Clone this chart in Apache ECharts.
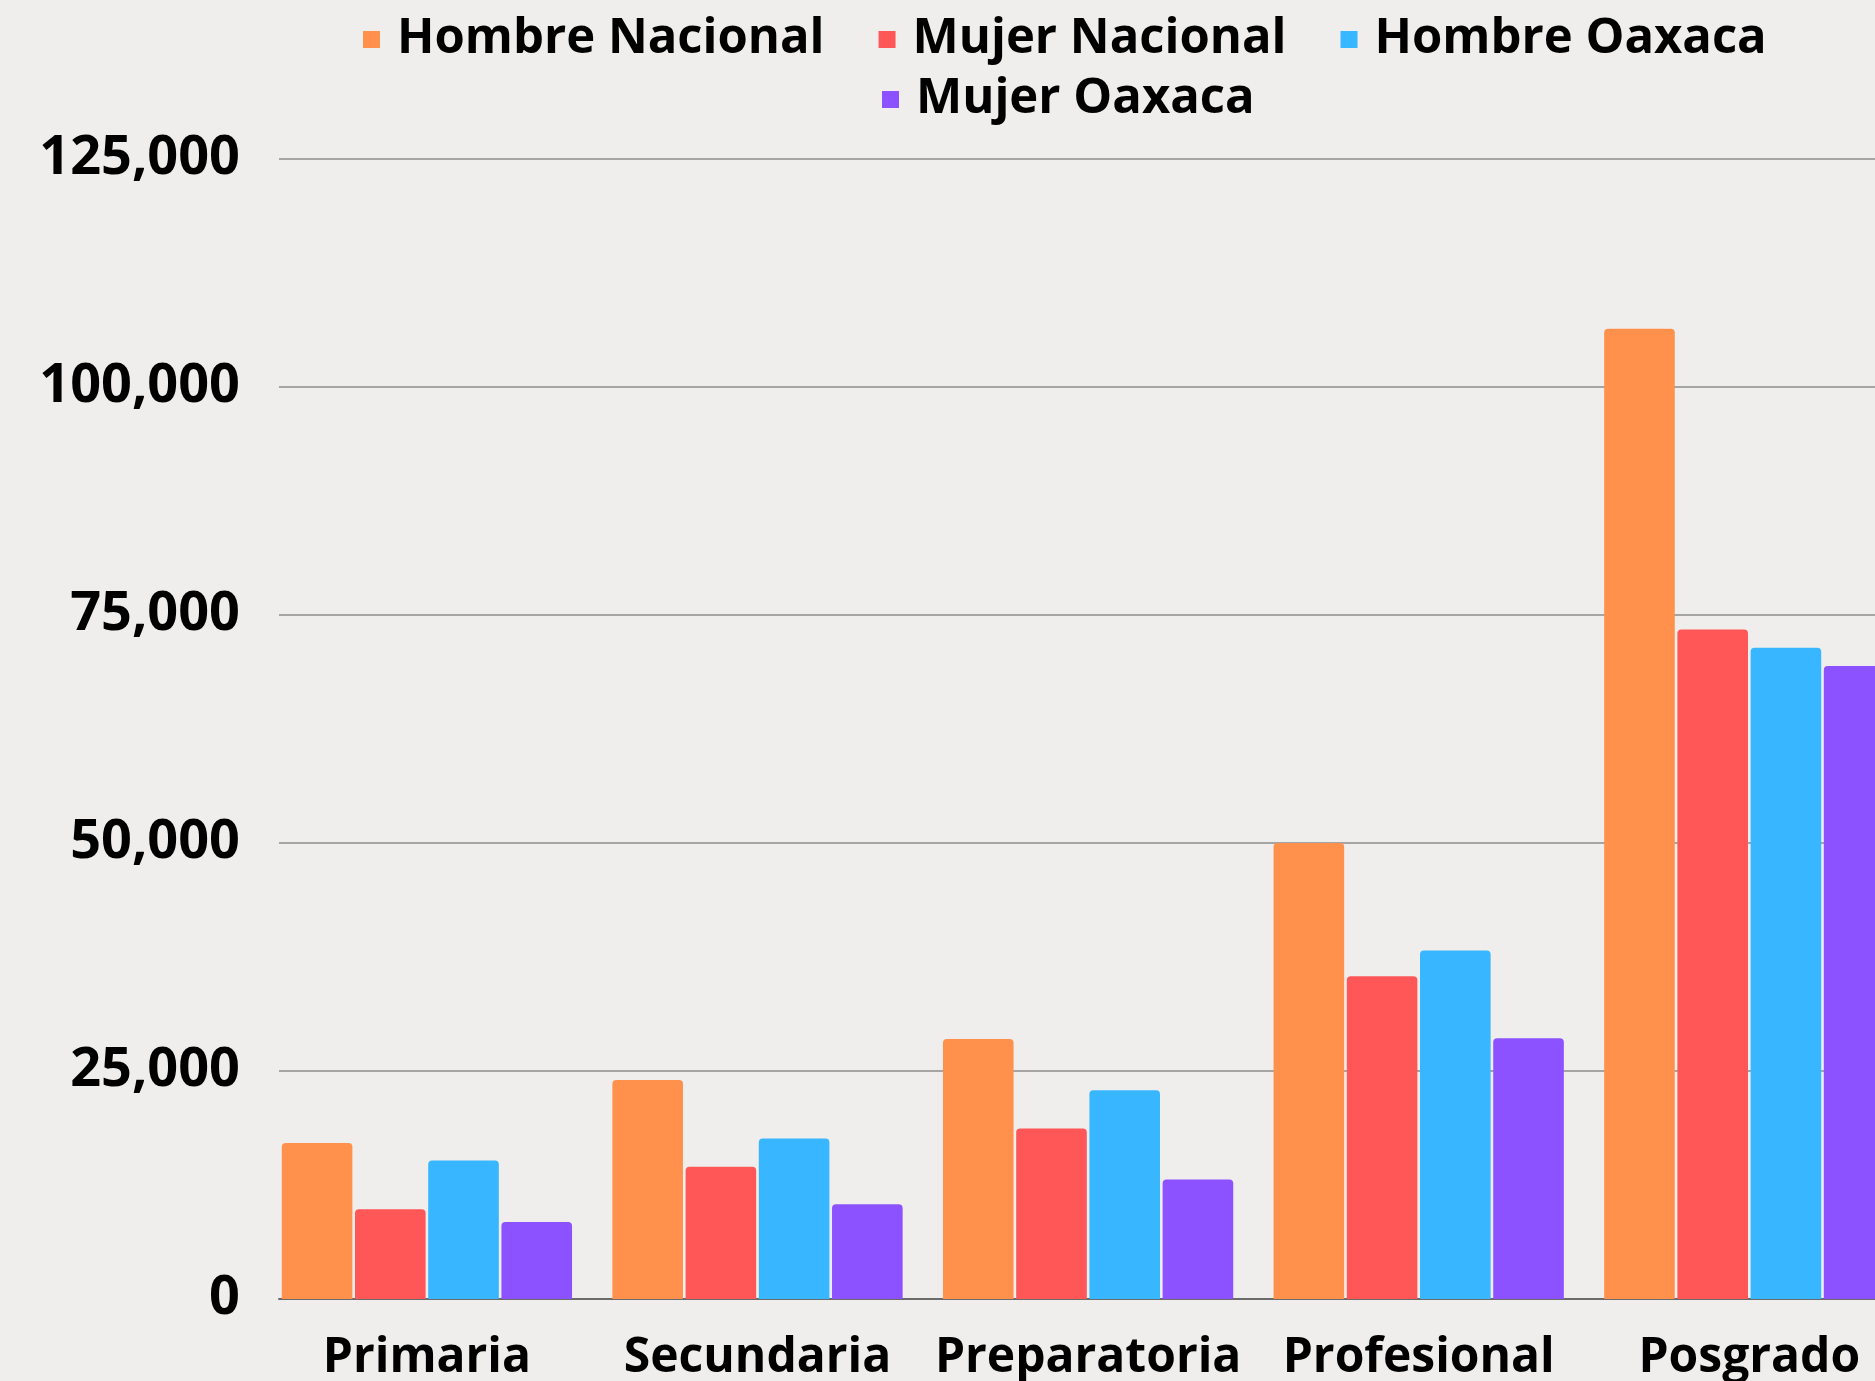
<!DOCTYPE html>
<html>
<head>
<meta charset="utf-8">
<script src="https://cdn.jsdelivr.net/npm/echarts@6/dist/echarts.min.js"></script>
<style>
html,body{margin:0;padding:0;background:#efeeec;}
#c{width:1875px;height:1381px;}
</style>
</head>
<body>
<div id="c"></div>
<script>
const categories = ['Primaria', 'Secundaria', 'Preparatoria', 'Profesional', 'Posgrado'];
const hombreNacional = [17100, 24000, 28500, 50000, 106400];
const mujerNacional = [9850, 14500, 18700, 35400, 73400];
const hombreOaxaca = [15200, 17600, 22900, 38200, 71400];
const mujerOaxaca = [8450, 10400, 13100, 28600, 69400];
const seriesNames = ['Hombre Nacional', 'Mujer Nacional', 'Hombre Oaxaca', 'Mujer Oaxaca'];
const seriesColors = ['#FF914D', '#FF5757', '#38B6FF', '#8C52FF'];
const yTicks = [0, 25000, 50000, 75000, 100000, 125000];

const font = '"Open Sans", "Noto Sans", sans-serif';
const chart = echarts.init(document.getElementById('c'), null, {renderer: 'canvas'});
const allData = [hombreNacional, mujerNacional, hombreOaxaca, mujerOaxaca];

const legendText = {fontFamily: font, fontWeight: 'bold', fontSize: 49, color: '#000', padding: [0, 0, 0, 12]};
chart.setOption({
  backgroundColor: '#efeeec',
  animation: false,
  legend: [
    {data: seriesNames.slice(0, 3), left: 358, top: 10, itemWidth: 17, itemHeight: 17, itemGap: 54, icon: 'rect', textStyle: legendText},
    {data: seriesNames.slice(3), left: 877, top: 70, itemWidth: 17, itemHeight: 17, icon: 'rect', textStyle: legendText}
  ],
  grid: [
    {left: 261.6, width: 1653, top: 159, bottom: 82, outerBoundsMode: 'none', containLabel: false},
    {left: 279, right: -5, top: 159, bottom: 82, outerBoundsMode: 'none', containLabel: false}
  ],
  xAxis: [
    {type: 'category', gridIndex: 0, data: categories,
     axisLine: {show: false}, axisTick: {show: false},
     axisLabel: {fontFamily: font, fontWeight: 'bold', fontSize: 48, color: '#000', margin: 35, interval: 0}},
    {type: 'value', gridIndex: 1, min: 0, max: 1, show: true,
     axisLine: {show: true, onZero: true, lineStyle: {color: '#6b6b6b', width: 2}},
     axisTick: {show: false}, axisLabel: {show: false}, splitLine: {show: false}}
  ],
  yAxis: [
    {type: 'value', gridIndex: 0, min: yTicks[0], max: yTicks[yTicks.length - 1], interval: 25000, show: false, splitLine: {show: false}},
    {type: 'value', gridIndex: 1, min: yTicks[0], max: yTicks[yTicks.length - 1], interval: 25000,
     axisLine: {show: false}, axisTick: {show: false},
     axisLabel: {fontFamily: font, fontWeight: 'bold', fontSize: 54, color: '#000', margin: 39,
                 formatter: v => v.toLocaleString('en-US')},
     splitLine: {show: true, lineStyle: {color: '#a5a5a5', width: 2}}}
  ],
  series: seriesNames.map((n, i) => ({
    name: n, type: 'bar', xAxisIndex: 0, yAxisIndex: 0,
    data: allData[i],
    barGap: '3.7%', barCategoryGap: '12.2%',
    itemStyle: {color: seriesColors[i], borderRadius: [4, 4, 0, 0]}
  }))
});
</script>
</body>
</html>
